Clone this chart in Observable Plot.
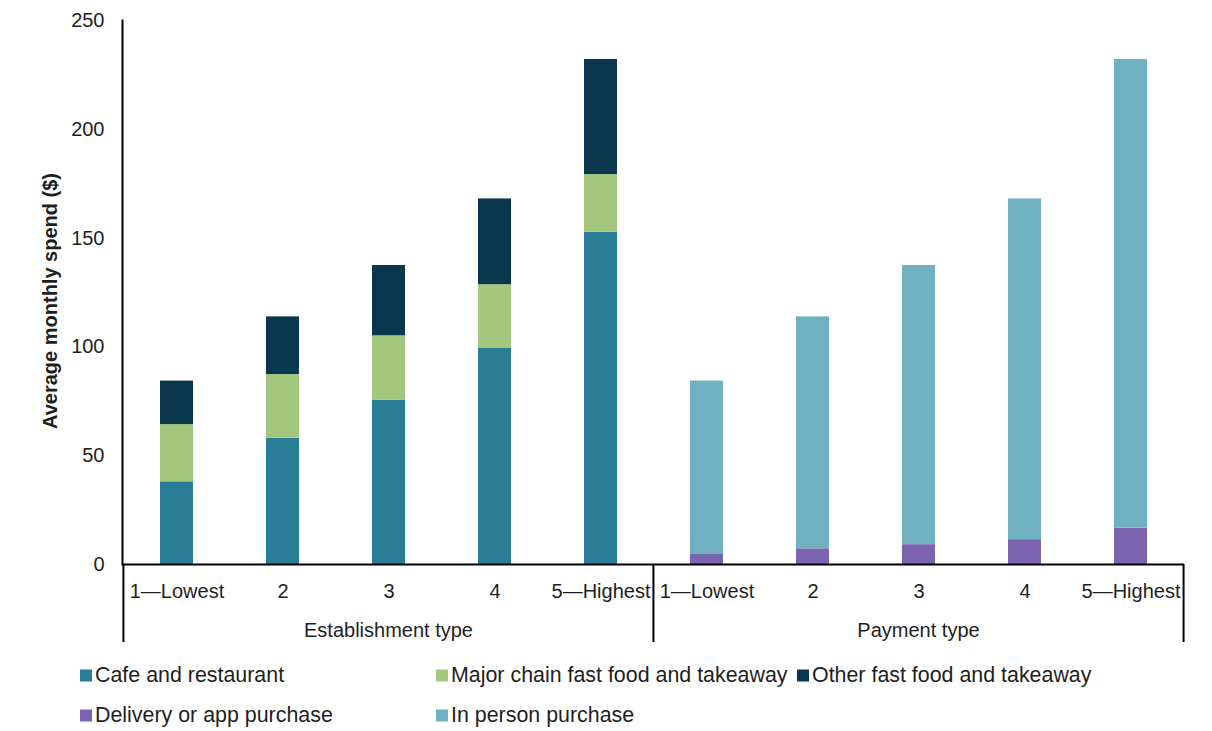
<!DOCTYPE html>
<html>
<head>
<meta charset="utf-8">
<script src="https://cdn.jsdelivr.net/npm/d3@7"></script>
<script src="https://cdn.jsdelivr.net/npm/@observablehq/plot@0.6"></script>
<style>
  body { margin: 0; background: #fff; font-family: "Liberation Sans", Arial, sans-serif; }
  #chart { position: relative; width: 1212px; }
  #legend { position: relative; width: 1212px; height: 81px; font-size: 21.4px; color: #1e1e1e; }
  .item { position: absolute; display: flex; align-items: center; white-space: nowrap; transform: translateY(-50%); }
  .sw { width: 12px; height: 12px; margin-right: 3px; }
</style>
</head>
<body>
<div id="chart"></div>
<div id="legend"></div>
<script>
// Income quintiles shown in each group
const levels = ["1—Lowest", "2", "3", "4", "5—Highest"];
const groups = ["Establishment type", "Payment type"];

// Average monthly spend ($) by establishment type
const cafeRestaurant = [38.0, 58.0, 75.5, 99.3, 152.7];
const majorChain = [26.3, 29.3, 29.6, 29.3, 26.5];
const otherFastFood = [20.0, 26.5, 32.3, 39.4, 52.9];

// Average monthly spend ($) by payment type
const deliveryApp = [4.9, 7.2, 9.1, 11.4, 16.7];
const inPerson = [79.4, 106.6, 128.3, 156.6, 215.4];

const seriesNames = [
  "Cafe and restaurant",
  "Major chain fast food and takeaway",
  "Other fast food and takeaway",
  "Delivery or app purchase",
  "In person purchase"
];
const seriesColors = ["#2a7d96", "#a2c77d", "#0b374e", "#7b63af", "#70b1c1"];

const yTicks = [0, 50, 100, 150, 200, 250];
const yTitle = "Average monthly spend ($)";

// Long-format rows; order within each bar sets the stacking order (bottom first)
const rows = [];
const keyLabel = new Map();
levels.forEach((lvl, i) => {
  const k = "E" + i;
  keyLabel.set(k, lvl);
  rows.push({key: k, series: seriesNames[0], value: cafeRestaurant[i]});
  rows.push({key: k, series: seriesNames[1], value: majorChain[i]});
  rows.push({key: k, series: seriesNames[2], value: otherFastFood[i]});
});
levels.forEach((lvl, i) => {
  const k = "P" + i;
  keyLabel.set(k, lvl);
  rows.push({key: k, series: seriesNames[3], value: deliveryApp[i]});
  rows.push({key: k, series: seriesNames[4], value: inPerson[i]});
});
const keys = [...keyLabel.keys()];
const groupKeys = [keys.filter(k => k[0] === "E"), keys.filter(k => k[0] === "P")];

const font = "'Liberation Sans', Arial, sans-serif";

const plot = Plot.plot({
  width: 1212,
  height: 650,
  marginTop: 20,
  marginLeft: 122,
  marginRight: 28,
  marginBottom: 86,
  style: {fontFamily: font, fontSize: "20px", color: "#1e1e1e", background: "#fff", overflow: "visible"},
  x: {type: "band", domain: keys, paddingInner: 0.69, paddingOuter: 0.345, axis: null},
  y: {domain: [0, 250], axis: null},
  color: {domain: seriesNames, range: seriesColors},
  marks: [
    Plot.barY(rows, {x: "key", y: "value", fill: "series", order: null}),
    Plot.axisY({ticks: yTicks, tickSize: 0, tickPadding: 18, label: null, fontSize: 20}),
    Plot.axisX({tickSize: 0, tickPadding: 19, tickFormat: k => keyLabel.get(k), label: null, fontSize: 20}),
    Plot.frame({anchor: "left", stroke: "#000", strokeWidth: 2}),
    Plot.ruleY([0], {stroke: "#000", strokeWidth: 2})
  ]
});

// Group dividers, group labels and the y-axis title, placed from the scales
const xs = plot.scale("x");
const ys = plot.scale("y");
const pi = 0.69;
const sliceLeft = k => xs.apply(k) - xs.step * pi / 2;
const sliceRight = k => xs.apply(k) + xs.bandwidth + xs.step * pi / 2;
const y0 = ys.apply(0);
const yMid = (ys.apply(0) + ys.apply(250)) / 2;
const svg = d3.select(plot);
const dividers = [sliceLeft(groupKeys[0][0]), sliceLeft(groupKeys[1][0]), sliceRight(groupKeys[1][4])];
svg.append("g")
  .selectAll("line").data(dividers).join("line")
  .attr("x1", d => d).attr("x2", d => d)
  .attr("y1", y0).attr("y2", y0 + 78)
  .attr("stroke", "#000").attr("stroke-width", 2);
svg.append("g")
  .attr("font-family", font).attr("font-size", 20).attr("fill", "#1e1e1e")
  .selectAll("text").data(groups).join("text")
  .attr("x", (g, i) => (sliceLeft(groupKeys[i][0]) + sliceRight(groupKeys[i][4])) / 2)
  .attr("y", y0 + 73)
  .attr("text-anchor", "middle")
  .text(d => d);
svg.append("text")
  .attr("font-family", font).attr("font-size", 20).attr("font-weight", "bold").attr("fill", "#1e1e1e")
  .attr("text-anchor", "middle")
  .attr("dominant-baseline", "central")
  .attr("transform", `translate(${xs.range[0] - 72},${yMid + 9}) rotate(-90)`)
  .text(yTitle);

document.getElementById("chart").appendChild(plot);

// Legend in two rows, three columns
const legendPos = [[80, 25], [436, 25], [797, 25], [80, 65], [436, 65]];
const legend = d3.select("#legend");
seriesNames.forEach((name, i) => {
  const item = legend.append("div").attr("class", "item")
    .style("left", legendPos[i][0] + "px").style("top", legendPos[i][1] + "px");
  item.append("div").attr("class", "sw").style("background", seriesColors[i]);
  item.append("span").text(name);
});
</script>
</body>
</html>
